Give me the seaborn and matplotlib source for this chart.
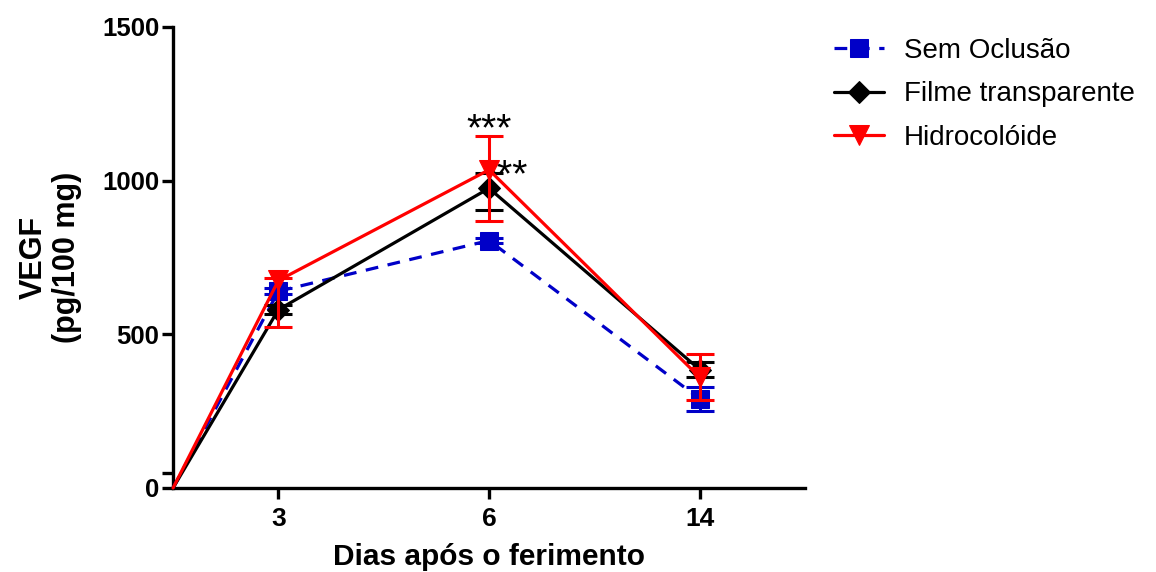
import numpy as np
import pandas as pd
import matplotlib
matplotlib.use("Agg")
import matplotlib.pyplot as plt
import seaborn as sns

# days after wounding (0 = origin point, no tick label)
days = [0, 3, 6, 14]
x_pos = [-0.5, 0, 1, 2]
tick_labels = ["3", "6", "14"]

groups = ["Sem Oclusão", "Filme transparente", "Hidrocolóide"]
sem_oclusao = [0, 640, 805, 290]
filme = [0, 580, 975, 385]
hidrocoloide = [0, 675, 1035, 360]

# (lower, upper) error per point
sem_oclusao_err = [[0, 10, 8, 40], [0, 10, 8, 40]]
filme_err = [[0, 15, 70, 25], [0, 15, 50, 25]]
hidrocoloide_err = [[0, 150, 165, 75], [0, 8, 110, 75]]
errs = {"Sem Oclusão": sem_oclusao_err, "Filme transparente": filme_err,
        "Hidrocolóide": hidrocoloide_err}

df = pd.DataFrame({
    "x": x_pos * 3,
    "vegf": sem_oclusao + filme + hidrocoloide,
    "grupo": np.repeat(groups, len(days)),
})

sns.set_theme(style="ticks")
plt.rcParams['font.family'] = ['Liberation Sans', 'DejaVu Sans']
plt.rcParams['text.color'] = 'black'
plt.rcParams['xtick.color'] = 'black'
plt.rcParams['ytick.color'] = 'black'
plt.rcParams['axes.labelcolor'] = 'black'
plt.rcParams['axes.edgecolor'] = 'black'

colors = {"Sem Oclusão": "#0000c8", "Filme transparente": "black", "Hidrocolóide": "#ff0000"}
markers = {"Sem Oclusão": "s", "Filme transparente": "D", "Hidrocolóide": "v"}
msize = {"Sem Oclusão": 13, "Filme transparente": 11, "Hidrocolóide": 15}
lstyle = {"Sem Oclusão": (0, (4, 3)), "Filme transparente": "-", "Hidrocolóide": "-"}

fig = plt.figure(figsize=(11.56, 5.72), dpi=100)
ax = fig.add_axes([0.1497, 0.1469, 0.5467, 0.8061])

for i, g in enumerate(groups):
    d = df[df["grupo"] == g]
    e = np.array(errs[g])
    ax.errorbar(d["x"][1:], d["vegf"][1:], yerr=e[:, 1:], fmt="none",
                ecolor=colors[g], elinewidth=2.2, capsize=10, capthick=2.2, zorder=3 + i)
    sns.lineplot(data=d, x="x", y="vegf", ax=ax, color=colors[g], linewidth=2.3,
                 linestyle=lstyle[g], marker=markers[g], markersize=msize[g],
                 markeredgecolor=colors[g], markevery=[1, 2, 3], zorder=3 + i,
                 clip_on=False, label=g)

ax.text(1, 1163, "***", ha="center", va="center", fontsize=28, zorder=2)
ax.text(1.075, 1013, "***", ha="center", va="center", fontsize=28, zorder=2)

ax.set_xlim(-0.5, 2.5)
ax.set_ylim(0, 1500)
ax.set_xticks([0, 1, 2])
ax.set_xticklabels(tick_labels)
ax.set_yticks([0, 500, 1000, 1500])
ax.set_yticks([50], minor=True)
ax.tick_params(axis="x", labelsize=19, width=2.4, length=8, direction="out", pad=6)
ax.tick_params(axis="y", labelsize=18.5, width=2.4, length=8, direction="out", pad=2)
ax.tick_params(axis="y", which="minor", width=2.4, length=8)
for lab in ax.get_xticklabels() + ax.get_yticklabels():
    lab.set_fontweight("bold")
sns.despine(ax=ax)
for s in ["left", "bottom"]:
    ax.spines[s].set_linewidth(2.4)

ax.set_xlabel("Dias após o ferimento", fontsize=21.5, fontweight="bold", labelpad=8)
ax.set_ylabel("VEGF\n(pg/100 mg)", fontsize=22, fontweight="bold", labelpad=14,
              linespacing=1.15)

handles, labels = ax.get_legend_handles_labels()
ax.get_legend().remove() if ax.get_legend() else None
fig.legend(handles, labels, loc="upper left", bbox_to_anchor=(0.70, 0.977),
           frameon=False, fontsize=20, handlelength=1.8, handletextpad=0.7,
           labelspacing=0.62)

fig.savefig("out.png", dpi=100)
